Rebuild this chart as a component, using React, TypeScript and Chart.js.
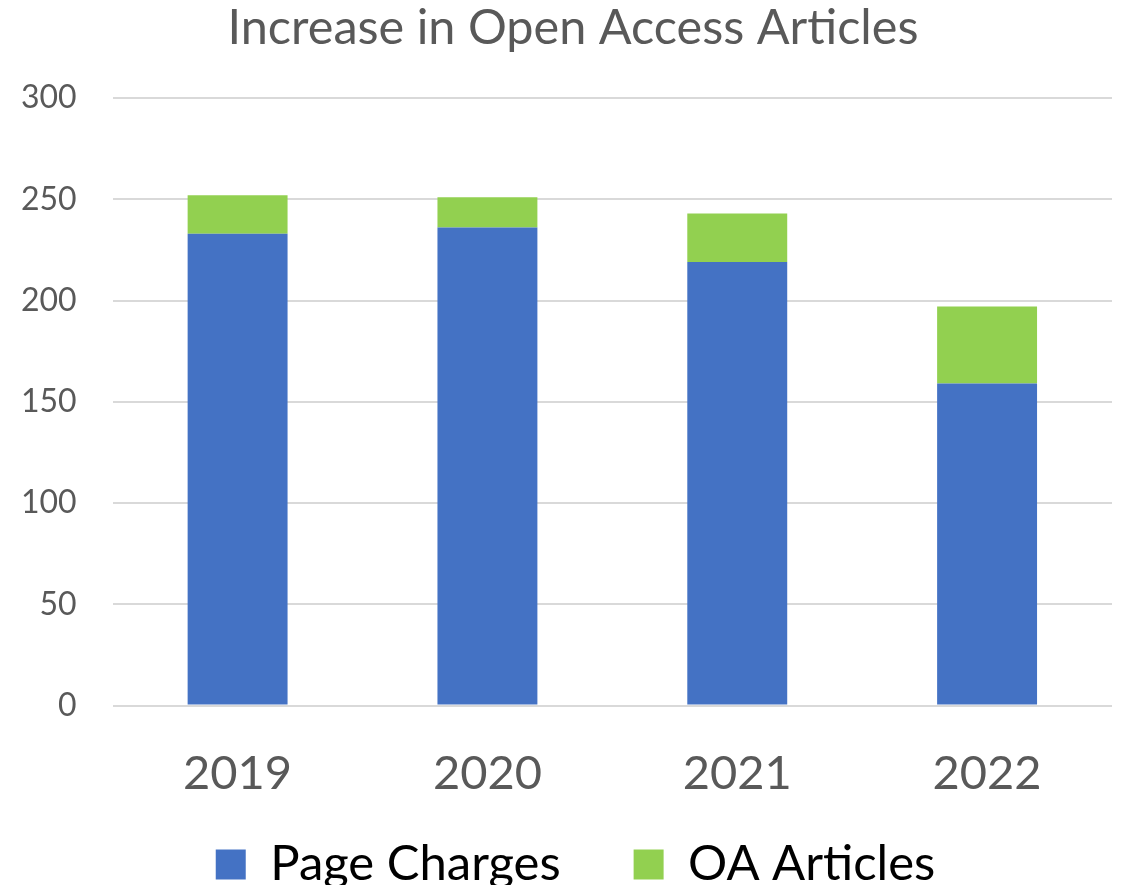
import React, { useEffect, useRef } from "react";
import { Chart, registerables } from "chart.js";

Chart.register(...registerables);

const categories = ["2019", "2020", "2021", "2022"];
const pageCharges = [233, 236, 219, 159];
const oaArticles = [19, 15, 24, 38];
const yTicks = [0, 50, 100, 150, 200, 250, 300];
const titleText = "Increase in Open Access Articles";

const FONT = "Lato, 'Open Sans', sans-serif";
const LEGEND_SHRINK = 66;
const LEGEND_LIFT = 67;
const LEGEND_SHIFT_X = 27;

const titlePlugin = {
  id: "customTitle",
  afterDraw(chart: any) {
    const c = chart.ctx;
    c.save();
    c.font = `normal 48.6px ${FONT}`;
    c.fillStyle = "#595959";
    c.textAlign = "center";
    c.textBaseline = "middle";
    c.fillText(titleText, 573, 28);
    c.restore();
  },
};

// Lets the legend's wide item gap not eat into the plot height.
const legendOverlapPlugin = {
  id: "legendOverlap",
  beforeLayout(chart: any) {
    const lg = chart.legend;
    if (lg && !lg.__patched) {
      const orig = lg.fit.bind(lg);
      lg.fit = function () {
        orig();
        this.height -= LEGEND_SHRINK;
      };
      lg.__patched = true;
    }
  },
  afterLayout(chart: any) {
    const lg = chart.legend;
    if (lg) {
      lg.top -= LEGEND_LIFT;
      lg.left += LEGEND_SHIFT_X;
      lg.right += LEGEND_SHIFT_X;
    }
  },
};

export default function App() {
  const ref = useRef<HTMLCanvasElement | null>(null);
  useEffect(() => {
    document.body.style.margin = "0";
    document.body.style.overflow = "hidden";
    const ctx = ref.current!.getContext("2d")!;
    const chart = new Chart(ctx, {
      type: "bar",
      data: {
        labels: categories,
        datasets: [
          { label: "Page Charges", data: pageCharges, backgroundColor: "#4472C4", barPercentage: 0.4, categoryPercentage: 1 },
          { label: "OA Articles", data: oaArticles, backgroundColor: "#92D050", barPercentage: 0.4, categoryPercentage: 1 },
        ],
      },
      plugins: [titlePlugin, legendOverlapPlugin],
      options: {
        animation: false,
        responsive: false,
        maintainAspectRatio: false,
        layout: { padding: { left: -15, right: 9, top: 98, bottom: 0 } },
        plugins: {
          title: { display: false },
          legend: {
            position: "bottom",
            labels: {
              color: "#000000",
              font: { family: FONT, size: 49 },
              boxWidth: 30,
              boxHeight: 30,
              padding: 73,
            },
          },
          tooltip: { enabled: false },
        },
        scales: {
          x: {
            stacked: true,
            grid: { display: false },
            border: { display: false },
            ticks: { color: "#595959", font: { family: FONT, size: 47 }, padding: 32 },
          },
          y: {
            stacked: true,
            min: 0,
            max: 300,
            afterBuildTicks: (axis: any) => {
              axis.ticks = yTicks.map((v) => ({ value: v }));
            },
            grid: { color: "#d9d9d9", lineWidth: 2, drawTicks: false },
            border: { display: false },
            ticks: { color: "#595959", font: { family: FONT, size: 32 }, padding: 36 },
          },
        },
      },
    });
    return () => chart.destroy();
  }, []);
  return (
    <div style={{ width: 1121, height: 900 }}>
      <canvas ref={ref} width={1121} height={900} style={{ display: "block" }} />
    </div>
  );
}
